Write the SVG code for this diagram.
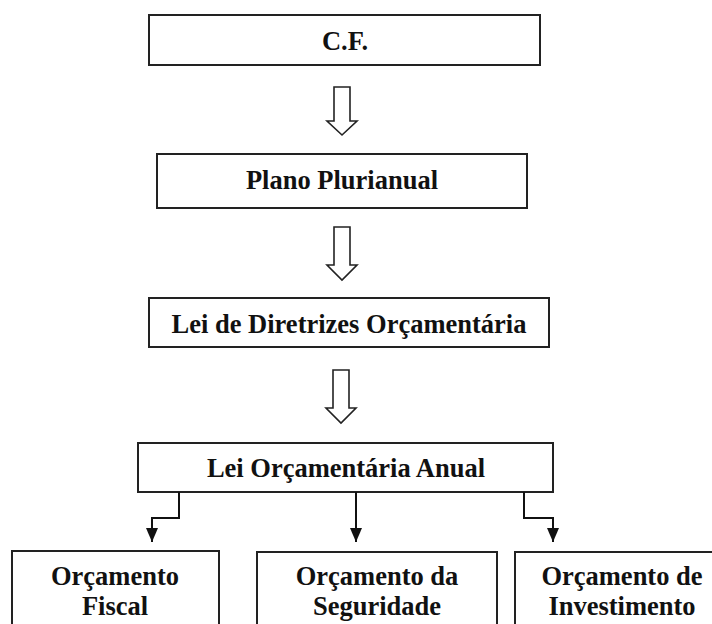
<svg xmlns="http://www.w3.org/2000/svg" width="712" height="624" viewBox="0 0 712 624">
<style>
.box{fill:#fff;stroke:#222;stroke-width:2}
.t{font-family:"Liberation Serif","Times New Roman",serif;font-weight:bold;font-size:26.5px;fill:#111;text-anchor:middle}
.hol{fill:#fff;stroke:#222;stroke-width:1.6;stroke-linejoin:miter}
.ln{fill:none;stroke:#111;stroke-width:2}
</style>
<defs>
<marker id="ah" markerWidth="14" markerHeight="12" refX="14" refY="6" orient="auto" markerUnits="userSpaceOnUse" viewBox="0 0 14 12">
<path d="M0,0 L14,6 L0,12 Z" fill="#111"/>
</marker>
</defs>
<rect width="712" height="624" fill="#fff"/>
<g id="cf"><rect class="box" x="149" y="15" width="391" height="50"/><text class="t" x="345" y="50">C.F.</text></g>
<g id="ppa"><rect class="box" x="157" y="154" width="370" height="54"/><text class="t" x="342" y="189">Plano Plurianual</text></g>
<g id="ldo"><rect class="box" x="149" y="298" width="400" height="49"/><text class="t" x="349" y="333">Lei de Diretrizes Orçamentária</text></g>
<g id="loa"><rect class="box" x="138" y="443" width="415" height="49"/><text class="t" x="346" y="477">Lei Orçamentária Anual</text></g>
<g id="fiscal"><rect class="box" x="12" y="551" width="207" height="90"/><text class="t" x="115" y="585">Orçamento</text><text class="t" x="115" y="615">Fiscal</text></g>
<g id="seguridade"><rect class="box" x="257" y="552" width="240" height="90"/><text class="t" x="377" y="585">Orçamento da</text><text class="t" x="377" y="615">Seguridade</text></g>
<g id="investimento"><rect class="box" x="515" y="552" width="220" height="90"/><text class="t" x="622" y="585">Orçamento de</text><text class="t" x="622" y="615">Investimento</text></g>
<g id="connectors">
<polygon class="hol" points="334,87 350,87 350,121 357,121 342,135 327,121 334,121"/>
<polygon class="hol" points="334,227 350,227 350,265 357,265 342,280 327,265 334,265"/>
<polygon class="hol" points="333,370 349,370 349,408 356,408 341,423 326,408 333,408"/>
<path class="ln" d="M179,492 V518 H152 V542" marker-end="url(#ah)"/>
<path class="ln" d="M356,492 V542" marker-end="url(#ah)"/>
<path class="ln" d="M524,492 V518 H553 V542" marker-end="url(#ah)"/>
</g>
</svg>
